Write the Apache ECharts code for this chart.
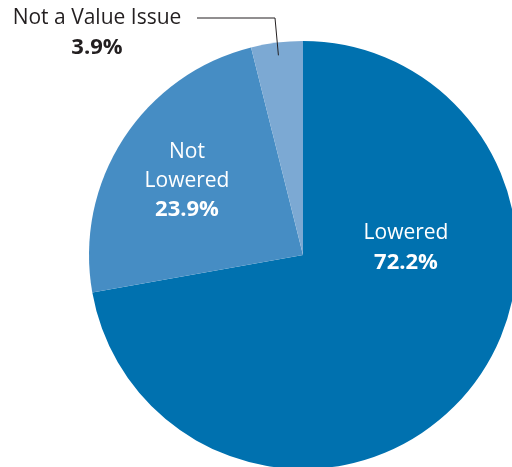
<!DOCTYPE html>
<html>
<head>
<meta charset="utf-8">
<style>
  html, body { margin: 0; padding: 0; background: #ffffff; }
  #chart { width: 512px; height: 467px; }
</style>
<script src="https://cdn.jsdelivr.net/npm/echarts@6/dist/echarts.min.js"></script>
</head>
<body>
<div id="chart"></div>
<script>
// Share of responses
const categories = ['Lowered', 'Not\nLowered', 'Not a Value Issue'];
const values = [72.2, 23.9, 3.9];
const colors = ['#0071AF', '#468DC4', '#7CA9D3'];

const FONT = '"Open Sans", "Noto Sans", sans-serif';
const CENTER = [303, 255];
const RADIUS = 214;

// label block centres for each slice
const labelPos = [[406, 248], [187, 181], [97, 33]];

const chart = echarts.init(document.getElementById('chart'), null, { renderer: 'canvas' });

const total = values.reduce((a, b) => a + b, 0);

// leader line for the small slice: starts at the label, ends inside the slice on its mid angle
function leaderPoints() {
  let before = 0;
  for (let i = 0; i < 2; i++) before += values[i];
  const mid = (before + values[2] / 2) / total * 2 * Math.PI;
  const r = RADIUS * 0.94;
  const ex = CENTER[0] + Math.sin(mid) * r;
  const ey = CENTER[1] - Math.cos(mid) * r;
  return [[197, 18], [275, 18], [ex, ey]];
}

chart.setOption({
  animation: false,
  backgroundColor: '#ffffff',
  series: [{
    type: 'pie',
    center: CENTER,
    radius: RADIUS,
    startAngle: 90,
    clockwise: true,
    silent: true,
    data: categories.map((name, i) => ({
      name: name,
      value: values[i],
      itemStyle: { color: colors[i] },
      label: i === 2 ? { position: 'outside', color: '#231f20' } : { position: 'inside', color: '#ffffff' }
    })),
    labelLine: { show: false },
    label: {
      show: true,
      fontFamily: FONT,
      fontSize: 21,
      lineHeight: 29,
      align: 'center',
      formatter: p => p.name.split('\n').map(s => '{n|' + s + '}').join('\n') + '\n{v|' + p.value.toFixed(1) + '%}',
      rich: {
        n: { fontFamily: FONT, fontSize: 21, lineHeight: 29, fontWeight: 'normal' },
        v: { fontFamily: FONT, fontSize: 22, lineHeight: 29, fontWeight: 'bold' }
      }
    },
    labelLayout: p => ({
      x: labelPos[p.dataIndex][0],
      y: labelPos[p.dataIndex][1],
      align: 'center',
      verticalAlign: 'middle'
    })
  }],
  graphic: [{
    type: 'polyline',
    silent: true,
    z: 100,
    shape: { points: leaderPoints() },
    style: { stroke: '#231f20', lineWidth: 1, fill: null }
  }]
});
</script>
</body>
</html>
